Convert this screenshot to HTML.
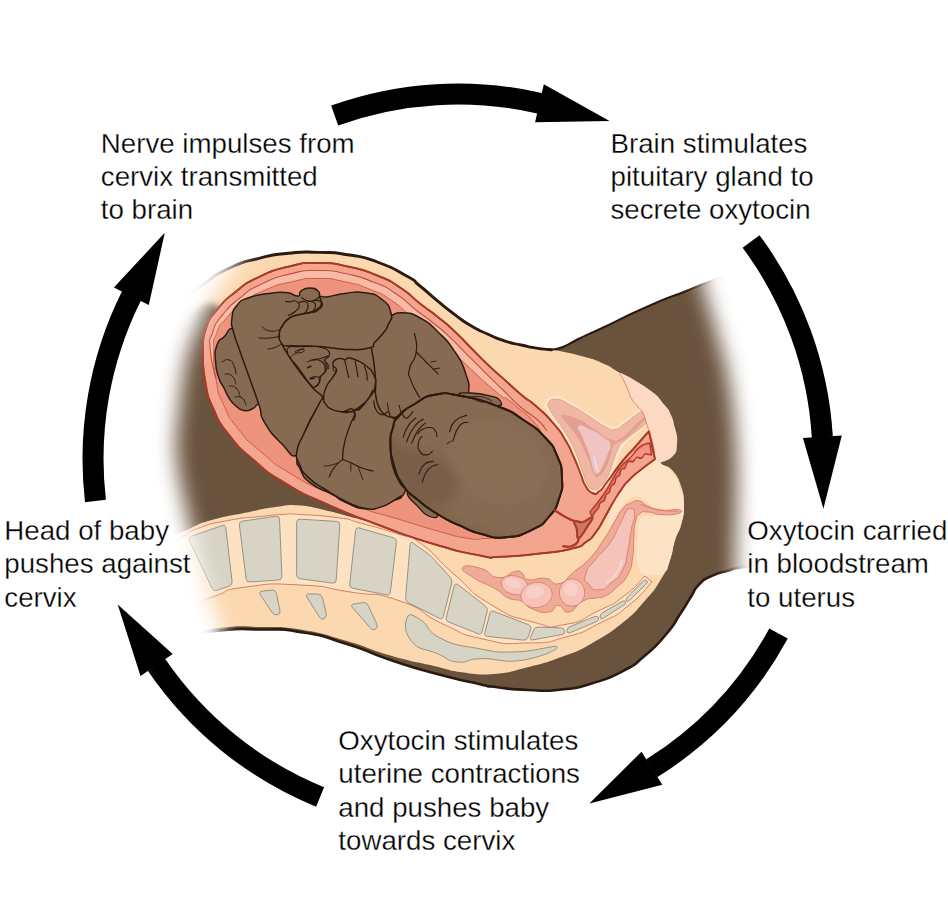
<!DOCTYPE html>
<html><head><meta charset="utf-8"><title>Positive feedback loop</title>
<style>
html,body{margin:0;padding:0;background:#fff;}
body{width:948px;height:914px;overflow:hidden;position:relative;font-family:"Liberation Sans",sans-serif;}
svg{display:block;position:absolute;left:0;top:0;}
</style></head><body>
<svg width="948" height="914" viewBox="0 0 948 914">
<rect width="948" height="914" fill="#fff"/>
<defs><filter id="blur9" x="-20%" y="-20%" width="140%" height="140%" color-interpolation-filters="sRGB"><feGaussianBlur stdDeviation="10"/></filter><clipPath id="silclip"><path d="M140.0 345.0C153.3 331.0 158.3 323.7 180.0 303.0C201.7 282.3 188.5 294.7 205.0 283.0C221.5 271.3 211.5 276.2 229.5 268.0C247.5 259.8 239.3 263.2 259.0 258.3C278.7 253.4 268.9 255.3 288.6 253.3C308.3 251.3 298.3 251.9 318.0 252.4C337.7 252.9 328.0 251.6 347.7 254.8C367.4 258.0 357.5 254.9 377.2 262.0C396.9 269.1 392.4 268.0 406.7 276.0C421.0 284.0 409.9 277.9 420.0 286.0C430.1 294.1 425.6 291.0 436.9 300.3C448.2 309.6 442.6 305.4 453.8 313.8C465.0 322.2 459.4 318.9 470.6 325.6C481.8 332.3 476.2 328.9 487.5 334.0C498.8 339.1 493.1 337.1 504.4 340.8C515.7 344.5 510.1 342.5 521.3 345.0C532.5 347.5 528.0 346.8 538.1 348.4C548.2 350.0 543.1 350.3 551.6 349.7C560.1 349.1 554.0 350.5 563.5 346.7C573.0 342.9 566.4 344.8 580.0 338.2C593.6 331.6 582.2 337.4 604.4 327.0C626.6 316.6 618.5 319.3 646.6 307.0C674.7 294.7 661.0 301.0 688.8 290.0C716.6 279.0 696.3 286.7 730.0 274.0C763.7 261.3 770.0 259.3 790.0 252.0 L790 560 L790.0 560.0C773.8 562.5 761.8 563.9 741.4 567.4C721.0 570.9 738.6 567.8 728.8 570.6C719.0 573.4 721.8 571.3 711.9 575.9C702.0 580.5 706.2 577.3 699.2 584.3C692.2 591.3 697.1 587.2 690.8 597.0C684.5 606.8 688.7 601.1 680.3 613.8C671.9 626.5 677.5 620.9 665.5 635.0C653.5 649.1 658.5 644.1 644.4 656.0C630.3 667.9 640.9 661.6 623.3 670.8C605.7 680.0 612.3 677.3 591.6 683.5C570.9 689.7 582.7 687.3 561.3 689.5C539.9 691.7 550.0 690.9 527.5 690.0C505.0 689.1 509.6 688.6 493.8 686.7C478.0 684.8 499.2 688.5 480.0 684.2C460.8 679.9 465.6 681.7 436.3 673.8C407.0 665.9 421.5 670.3 392.0 660.5C362.5 650.7 377.2 653.6 347.7 644.3C318.2 635.0 333.0 637.4 303.4 632.5C273.8 627.6 288.5 630.0 259.0 629.5C229.5 629.0 251.1 627.5 214.8 631.0C178.5 634.5 171.6 637.0 150.0 640.0 Z"/></clipPath><mask id="fade" maskUnits="userSpaceOnUse" x="80" y="180" width="760" height="600"><path d="M290.0 170.0C202.4 183.6 262.0 221.0 252.0 238.0C242.0 255.0 244.0 249.0 240.0 255.0C236.0 261.0 237.0 260.6 232.0 268.0C227.0 275.4 221.4 280.8 215.0 292.0C208.6 303.2 205.0 312.8 200.0 324.0C195.0 335.2 193.2 338.4 190.0 348.0C186.8 357.6 186.2 359.6 184.0 372.0C181.8 384.4 180.6 395.6 179.0 410.0C177.4 424.4 176.0 431.0 176.0 444.0C176.0 457.0 177.4 463.8 179.0 475.0C180.6 486.2 181.6 489.0 184.0 500.0C186.4 511.0 188.2 518.0 191.0 530.0C193.8 542.0 194.8 548.0 198.0 560.0C201.2 572.0 203.4 579.0 207.0 590.0C210.6 601.0 213.0 606.6 216.0 615.0C219.0 623.4 219.6 623.0 222.0 632.0C224.4 641.0 225.4 630.4 228.0 660.0C230.6 689.6 125.6 756.0 235.0 780.0C344.4 804.0 673.0 806.0 775.0 780.0C877.0 754.0 752.6 686.0 745.0 650.0C737.4 614.0 739.0 618.0 737.0 600.0C735.0 582.0 735.2 576.0 735.0 560.0C734.8 544.0 735.6 536.0 736.0 520.0C736.4 504.0 737.0 494.8 737.0 480.0C737.0 465.2 736.8 460.0 736.0 446.0C735.2 432.0 734.8 424.9 733.0 410.0C731.2 395.1 730.2 386.7 727.0 371.5C723.8 356.3 721.1 348.9 717.0 334.0C712.9 319.1 709.9 309.8 706.5 297.0C703.1 284.2 703.3 295.4 700.0 270.0C696.7 244.6 772.0 190.0 690.0 170.0C608.0 150.0 377.6 156.4 290.0 170.0Z" fill="#fff" filter="url(#blur9)"/></mask><filter id="blur3" x="-30%" y="-30%" width="160%" height="160%"><feGaussianBlur stdDeviation="3.5"/></filter><clipPath id="headclip"><path d="M392.7 428.5C395.2 420.3 392.0 423.5 399.0 415.9C406.0 408.3 405.1 409.5 415.9 403.2C426.7 396.9 421.7 397.0 434.9 394.8C448.1 392.6 441.1 392.3 460.0 395.8C478.9 399.3 478.9 399.1 498.0 406.4C517.0 413.7 509.5 410.8 523.5 420.0C537.5 429.2 534.5 426.2 544.6 437.0C554.7 447.8 552.0 444.0 557.2 456.0C562.4 468.0 561.3 464.4 561.9 477.0C562.5 489.6 563.2 486.0 559.3 498.0C555.4 510.0 557.0 507.5 548.8 517.0C540.6 526.5 544.6 523.7 531.9 529.8C519.2 535.9 521.8 535.9 506.6 537.2C491.4 538.5 495.3 537.5 481.3 534.0C467.3 530.5 472.7 531.3 460.0 525.6C447.3 519.9 451.6 522.7 439.0 515.0C426.4 507.3 428.7 508.9 418.0 500.0C407.3 491.1 410.5 496.2 403.2 485.5C395.9 474.8 397.5 477.1 393.7 464.4C389.9 451.7 390.8 454.1 390.5 443.3C390.2 432.5 390.1 436.7 392.7 428.5Z"/></clipPath><filter id="blur5" x="-30%" y="-30%" width="160%" height="160%"><feGaussianBlur stdDeviation="5"/></filter></defs>
<g mask="url(#fade)"><g clip-path="url(#silclip)"><rect x="100" y="200" width="720" height="540" fill="#6a533d"/>
<path d="M226.0 280.0C227.7 272.0 220.7 272.3 229.5 266.0C238.3 259.7 243.2 260.2 259.0 256.3C274.8 252.4 272.9 252.9 288.6 251.3C304.3 249.7 302.2 250.0 318.0 250.4C333.8 250.8 331.9 250.2 347.7 252.8C363.5 255.4 361.5 254.3 377.2 260.0C392.9 265.7 395.3 267.6 406.7 274.0C418.1 280.4 411.9 277.5 420.0 284.0C428.1 290.5 427.9 290.9 436.9 298.3C445.9 305.7 444.8 305.1 453.8 311.8C462.8 318.5 461.6 318.2 470.6 323.6C479.6 329.0 478.5 327.9 487.5 332.0C496.5 336.1 495.4 335.9 504.4 338.8C513.4 341.7 512.3 340.8 521.3 343.0C530.3 345.2 530.0 345.3 538.1 347.0C546.2 348.7 539.5 347.0 551.6 349.5C563.7 352.0 569.2 352.6 583.3 356.5C597.4 360.4 594.9 359.8 604.4 364.0C613.9 368.2 607.7 366.0 619.0 372.4C630.3 378.8 634.7 379.6 646.6 388.0C658.5 396.4 656.2 394.1 663.5 404.0C670.8 413.9 670.4 414.1 674.0 425.0C677.6 435.9 677.5 436.5 677.0 445.0C676.5 453.5 676.3 452.2 672.0 457.0C667.7 461.8 661.0 459.5 661.0 463.0C661.0 466.5 666.7 463.9 672.0 470.0C677.3 476.1 677.8 476.4 681.0 486.0C684.2 495.6 684.0 495.6 684.0 506.0C684.0 516.4 683.4 515.9 681.0 525.0C678.6 534.1 678.0 530.4 675.0 540.0C672.0 549.6 673.9 549.7 669.7 561.0C665.5 572.3 665.9 571.5 659.2 582.2C652.5 592.9 654.0 590.5 644.4 601.2C634.8 611.9 637.4 611.0 623.3 622.3C609.2 633.6 608.1 634.1 591.6 643.4C575.1 652.7 578.4 650.6 561.3 657.0C544.2 663.4 545.4 662.8 527.5 667.3C509.6 671.8 512.0 672.7 494.0 674.0C476.0 675.3 475.4 674.0 460.0 672.0C444.6 670.0 454.4 670.8 436.3 666.5C418.2 662.2 415.6 662.7 392.0 656.0C368.4 649.3 371.4 648.2 347.7 641.3C324.0 634.4 326.7 633.8 303.0 630.0C279.3 626.2 282.5 627.4 259.0 627.0C235.5 626.6 246.5 625.0 214.8 628.5C183.1 632.0 162.6 647.6 140.0 640.0C117.4 632.4 130.0 623.5 130.0 600.0C130.0 576.5 124.8 570.7 140.0 552.0C155.2 533.3 168.3 538.4 187.0 530.0C205.7 521.6 194.5 525.2 210.0 520.6C225.5 516.0 227.5 516.4 245.0 512.8C262.5 509.2 260.8 508.9 275.5 507.0C290.2 505.1 285.9 504.4 300.0 505.5C314.1 506.6 313.5 507.7 328.2 511.0C342.9 514.3 340.9 514.5 355.0 518.0C369.1 521.5 369.0 521.4 381.0 524.3C393.0 527.2 397.1 531.2 400.0 529.0C402.9 526.8 410.7 531.7 392.0 516.0C373.3 500.3 362.5 500.9 330.0 470.0C297.5 439.1 295.3 434.7 270.0 400.0C244.7 365.3 246.7 363.5 235.0 340.0C223.3 316.5 229.2 323.7 226.0 312.0C222.8 300.3 223.0 304.5 223.0 296.0C223.0 287.5 224.3 288.0 226.0 280.0Z" fill="#fbd8b0"/>
<path d="M236.0 262.0C237.7 272.1 238.7 286.7 236.0 300.0C233.3 313.3 231.9 310.9 226.0 312.0C220.1 313.1 220.9 305.6 214.0 304.0C207.1 302.4 208.5 302.3 200.0 306.0C191.5 309.7 192.7 311.6 182.0 318.0C171.3 324.4 168.5 330.0 160.0 330.0C151.5 330.0 144.7 327.1 150.0 318.0C155.3 308.9 165.3 306.7 180.0 296.0C194.7 285.3 191.8 287.1 205.0 278.0C218.2 268.9 221.2 266.3 229.5 262.0C237.8 257.7 234.3 251.9 236.0 262.0Z" fill="#fbd8b0" filter="url(#blur3)"/>
<path d="M202.8 350.0C203.7 343.3 200.9 343.2 205.5 330.0C210.1 316.8 206.3 323.3 216.5 310.5C226.7 297.7 221.8 302.7 236.0 291.5C250.2 280.3 241.5 285.3 259.0 277.0C276.5 268.7 268.9 271.3 288.6 266.6C308.3 261.9 298.3 263.0 318.0 263.0C337.7 263.0 328.0 262.3 347.7 266.5C367.4 270.7 359.8 268.5 377.2 275.5C394.6 282.5 385.7 278.1 400.0 287.5C414.3 296.9 407.7 294.0 420.0 303.6C432.3 313.2 425.6 307.3 436.9 316.3C448.2 325.3 442.6 320.2 453.8 330.6C465.0 341.0 459.4 336.2 470.6 347.5C481.8 358.8 476.2 353.7 487.5 364.4C498.8 375.1 493.1 369.5 504.4 379.6C515.7 389.7 510.5 385.7 521.3 394.8C532.1 403.9 526.1 397.2 536.9 406.9C547.7 416.6 544.2 412.6 553.8 423.8C563.4 435.0 558.9 429.4 565.6 440.6C572.3 451.8 568.9 446.2 574.0 457.5C579.1 468.8 576.9 464.8 580.8 474.4C584.7 484.0 581.9 480.0 585.8 486.2C589.7 492.4 588.1 491.3 592.6 493.0C597.1 494.7 594.2 495.3 599.3 491.3C604.4 487.3 600.5 490.6 607.8 481.0C615.1 471.4 612.3 473.8 621.3 462.6C630.3 451.4 626.9 456.4 634.8 447.4C642.7 438.4 640.3 440.9 645.0 435.6C649.7 430.3 647.7 432.9 649.0 431.5L655 459.2C650.5 462.6 649.9 462.5 641.5 469.3C633.1 476.1 636.4 472.7 629.7 479.5C623.0 486.3 626.9 481.8 621.3 489.6C615.7 497.4 618.1 494.2 612.8 503.0C607.5 511.8 611.1 506.3 605.5 516.0C599.9 525.7 602.5 523.3 596.0 532.0C589.5 540.7 594.1 536.4 586.0 542.0C577.9 547.6 587.0 544.9 571.7 548.7C556.4 552.5 563.9 550.8 540.0 553.5C516.1 556.2 520.0 556.1 500.0 556.8C480.0 557.5 502.7 559.9 480.0 555.5C457.3 551.1 465.3 553.5 432.0 543.5C398.7 533.5 414.8 538.5 380.0 525.5C345.2 512.5 359.2 518.5 327.7 504.5C296.2 490.5 310.1 498.2 285.5 483.4C260.9 468.6 272.5 476.2 253.8 460.2C235.1 444.2 242.9 452.6 229.5 435.5C216.1 418.4 221.6 427.2 213.5 409.0C205.4 390.8 208.8 400.7 205.2 381.0C201.6 361.3 203.6 360.3 202.8 350.0Z" fill="#f4a58f" stroke="#a53b28" stroke-width="1.6" stroke-linejoin="round"/>
<path d="M216.0 379.0C214.1 369.4 211.4 365.6 210.3 350.0C209.2 334.5 208.6 344.1 212.6 332.5C216.6 320.8 213.0 326.8 222.4 315.2C231.7 303.5 227.4 307.8 240.6 297.4C253.9 286.9 245.6 291.6 262.2 283.8C278.8 275.9 271.7 278.3 290.3 273.9C308.9 269.5 299.4 270.5 318.0 270.5C336.6 270.5 327.4 269.9 346.2 273.8C364.9 277.8 357.8 275.8 374.4 282.5C391.0 289.1 382.2 284.8 395.9 293.8C409.5 302.8 403.3 300.0 415.4 309.5C427.5 319.0 421.1 313.3 432.2 322.2C443.3 331.0 437.7 325.9 448.7 336.1C459.7 346.3 454.1 341.6 465.3 352.8C476.5 364.0 469.8 357.4 482.3 369.8C494.9 382.2 491.8 378.9 503.0 390.0C514.2 401.1 511.7 398.7 516.0 403.0L508.0 399.5C503.3 396.3 510.1 403.7 494.0 390.0C477.9 376.3 476.5 374.5 459.6 358.4C442.7 342.4 454.1 352.0 443.3 342.0C432.5 332.0 438.2 337.1 427.2 328.4C416.3 319.7 422.4 325.1 410.5 315.8C398.6 306.5 404.5 309.1 391.5 300.5C378.5 291.8 387.1 296.1 371.4 289.9C355.8 283.6 362.3 285.5 344.5 281.7C326.7 277.9 335.5 278.5 318.0 278.5C300.6 278.5 309.8 277.8 292.2 281.7C274.6 285.5 281.1 283.3 265.2 290.1C249.3 296.9 257.3 292.7 244.4 302.1C231.4 311.5 235.6 307.7 226.3 318.3C217.0 328.8 220.5 323.2 216.4 333.8C212.2 344.4 213.9 335.0 213.8 350.1C213.7 365.2 215.3 369.4 216.0 379.0Z" fill="#f8bba7"/>
<path d="M292.0 474.5C268.6 460.3 278.9 467.1 261.0 451.8C243.0 436.6 250.6 444.5 238.1 428.7C225.7 412.9 230.9 421.1 223.5 404.5C216.2 388.0 219.3 397.2 216.0 379.0C212.8 360.9 213.7 365.2 213.8 350.1C213.9 335.0 212.2 344.4 216.4 333.8C220.5 323.2 217.0 328.8 226.3 318.3C235.6 307.7 231.4 311.5 244.4 302.1C257.3 292.7 249.3 296.9 265.2 290.1C281.1 283.3 274.6 285.5 292.2 281.7C309.8 277.8 300.6 278.5 318.0 278.5C335.5 278.5 326.7 277.9 344.5 281.7C362.3 285.5 355.8 283.6 371.4 289.9C387.1 296.1 378.5 291.8 391.5 300.5C404.5 309.1 398.6 306.5 410.5 315.8C422.4 325.1 416.3 319.7 427.2 328.4C438.2 337.1 432.5 332.0 443.3 342.0C454.1 352.0 442.7 342.4 459.6 358.4C476.5 374.5 477.9 376.3 494.0 390.0C510.1 403.7 500.0 393.5 508.0 399.5C516.0 405.5 510.0 401.2 518.0 408.0C526.0 414.8 523.7 410.7 532.0 420.0C540.3 429.3 537.0 424.7 543.0 436.0C549.0 447.3 546.7 441.2 550.0 454.0C553.3 466.8 552.3 462.0 553.0 474.4C553.7 486.8 553.3 480.1 552.0 491.3C550.7 502.5 553.0 497.8 549.0 508.0C545.0 518.2 549.7 514.0 540.0 522.0C530.3 530.0 533.3 527.2 520.0 532.0C506.7 536.8 511.7 534.3 500.0 536.5C488.3 538.7 496.3 538.0 485.0 538.5C473.7 539.0 482.3 540.7 466.0 538.0C449.7 535.3 458.7 536.8 436.0 530.5C413.3 524.2 423.3 526.7 398.0 519.0C372.7 511.3 382.3 515.7 360.0 507.5C337.7 499.3 353.7 505.5 331.0 494.5C308.3 483.5 315.3 488.7 292.0 474.5Z" fill="#ee937d" stroke="#c95c48" stroke-width="1"/>
<path d="M216.0 379.0C214.1 369.4 211.4 365.6 210.3 350.0C209.2 334.5 208.6 344.1 212.6 332.5C216.6 320.8 213.0 326.8 222.4 315.2C231.7 303.5 227.4 307.8 240.6 297.4C253.9 286.9 245.6 291.6 262.2 283.8C278.8 275.9 271.7 278.3 290.3 273.9C308.9 269.5 299.4 270.5 318.0 270.5C336.6 270.5 327.4 269.9 346.2 273.8C364.9 277.8 357.8 275.8 374.4 282.5C391.0 289.1 382.2 284.8 395.9 293.8C409.5 302.8 403.3 300.0 415.4 309.5C427.5 319.0 421.1 313.3 432.2 322.2C443.3 331.0 437.7 325.9 448.7 336.1C459.7 346.3 454.1 341.6 465.3 352.8C476.5 364.0 469.8 357.4 482.3 369.8C494.9 382.2 490.4 377.8 503.0 390.0C515.6 402.2 508.7 396.7 520.0 406.5C531.3 416.3 528.0 411.3 537.0 419.5C546.0 427.7 543.7 427.2 547.0 431.0" fill="none" stroke="#bf523e" stroke-width="1.1"/>
<path d="M236.0 331.0C227.4 324.2 229.3 332.9 223.5 337.3C217.7 341.7 219.2 338.7 216.8 345.8C214.4 352.9 215.0 351.6 215.5 361.0C216.0 370.4 215.9 368.9 218.5 377.0C221.1 385.1 220.8 381.7 224.0 388.0C227.2 394.3 225.4 392.6 229.0 398.0C232.6 403.4 231.5 402.2 236.0 406.0C240.5 409.8 239.2 409.6 244.0 410.5C248.8 411.4 247.8 410.9 252.0 409.0C256.2 407.1 253.8 407.3 258.0 404.0C262.2 400.7 267.8 411.2 266.0 398.0C264.2 384.8 261.0 380.1 252.0 360.0C243.0 339.9 244.6 337.8 236.0 331.0Z" fill="#866a52" stroke="#2e1b10" stroke-width="1.5" stroke-linejoin="round"/>
<path d="M281.7 344.0C287.7 327.5 303.5 339.4 330.0 340.0C356.5 340.6 355.6 338.2 370.0 346.0C384.4 353.8 375.6 349.8 378.0 366.0C380.4 382.2 371.4 382.3 378.0 400.0C384.6 417.7 394.9 404.0 400.0 425.0C405.1 446.0 394.0 450.0 395.0 470.0C396.0 490.0 405.2 482.1 403.3 491.8C401.4 501.5 399.3 497.3 388.5 502.4C377.7 507.5 380.4 508.8 367.4 508.7C354.3 508.6 355.6 506.4 345.0 502.0C334.4 497.6 342.2 499.6 332.0 494.0C321.8 488.4 320.6 491.0 311.0 483.4C301.4 475.8 304.2 477.1 300.0 468.6C295.8 460.1 297.0 469.6 297.0 455.0C297.0 440.4 296.1 438.0 300.0 420.0C303.9 402.0 315.5 417.8 310.0 395.0C304.5 372.2 275.7 360.5 281.7 344.0Z" fill="#866a52" stroke="#2e1b10" stroke-width="1.5" stroke-linejoin="round"/>
<path d="M390.6 316.0C397.0 313.5 394.4 312.2 403.3 312.8C412.2 313.4 409.8 312.2 420.2 318.0C430.6 323.8 427.6 321.8 438.0 332.0C448.4 342.2 446.8 339.9 455.0 352.0C463.2 364.1 461.1 360.1 465.2 372.2C469.2 384.3 469.5 383.0 468.5 392.5C467.5 402.0 470.6 398.8 462.0 404.0C453.4 409.2 455.3 408.8 440.0 410.0C424.7 411.2 424.7 405.7 411.0 408.0C397.3 410.3 402.4 415.9 394.3 417.8C386.2 419.7 389.1 416.4 384.0 414.4C378.9 412.4 380.4 415.1 377.4 411.0C374.4 406.9 374.5 408.5 374.0 400.9C373.5 393.3 375.7 396.8 375.7 385.7C375.7 374.6 375.3 376.5 374.0 363.8C372.7 351.1 371.0 353.6 371.5 343.5C372.0 333.4 372.6 336.8 375.7 330.0C378.8 323.2 377.5 325.2 382.0 321.0C386.5 316.8 384.2 318.5 390.6 316.0Z" fill="#866a52" stroke="#2e1b10" stroke-width="1.5" stroke-linejoin="round"/>
<path d="M319.7 296.8C321.7 294.8 320.4 297.8 328.0 296.8C335.6 295.8 334.0 294.6 345.0 293.4C356.0 292.2 353.7 291.0 364.6 292.7C375.5 294.4 373.5 292.9 381.4 299.0C389.3 305.1 389.0 305.2 391.0 313.0C393.0 320.8 390.2 319.1 388.0 325.0C385.8 330.9 387.4 327.6 383.5 332.7C379.6 337.8 379.4 337.4 375.0 342.0C370.6 346.6 377.9 345.8 369.0 348.0C360.1 350.2 360.0 349.8 345.3 349.4C330.6 348.9 335.3 347.6 320.0 346.5C304.7 345.4 305.9 346.6 294.4 345.8C282.9 345.1 286.3 347.5 281.7 344.0C277.1 340.5 278.9 339.6 279.2 334.0C279.5 328.4 279.6 330.3 282.6 325.5C285.6 320.7 284.2 321.3 289.3 318.0C294.4 314.7 292.9 316.3 299.5 314.5C306.1 312.7 305.8 313.8 311.3 312.0C316.9 310.2 315.0 311.1 318.0 308.6C321.0 306.1 320.9 307.1 321.4 303.6C321.9 300.1 317.7 298.8 319.7 296.8Z" fill="#866a52" stroke="#2e1b10" stroke-width="1.5" stroke-linejoin="round"/>
<path d="M288.9 347.2C292.1 345.4 291.9 346.8 298.2 346.6C304.5 346.4 302.8 346.1 309.8 346.4C316.8 346.7 315.8 346.1 321.4 347.5C327.1 349.0 326.5 348.6 328.6 351.2C330.8 353.9 329.7 353.9 328.6 356.5C327.5 359.1 325.3 357.0 324.9 359.9C324.5 362.9 327.2 362.7 327.2 366.3C327.2 370.0 326.8 369.2 324.9 372.1C323.0 375.1 322.4 373.4 320.8 376.2C319.3 379.0 321.2 378.3 319.7 381.4C318.1 384.5 318.6 385.9 315.6 386.6C312.7 387.3 315.0 389.5 309.8 383.7C304.6 378.0 304.1 375.1 298.2 367.5C292.3 359.8 293.3 362.7 290.1 358.2C286.9 353.7 287.9 355.7 287.5 352.4C287.2 349.1 285.7 348.9 288.9 347.2Z" fill="#866a52" stroke="#2e1b10" stroke-width="1.2" stroke-linejoin="round"/>
<path d="M231.9 318.8C232.9 310.7 231.9 311.6 237.0 305.3C242.1 299.0 239.2 301.3 248.8 297.7C258.4 294.1 257.8 294.9 269.0 293.4C280.2 291.9 277.4 291.8 286.0 292.6C294.6 293.4 293.3 296.5 297.8 296.0C302.3 295.5 297.5 293.4 301.0 291.0C304.5 288.6 304.5 288.0 309.6 288.0C314.7 288.0 315.0 288.4 318.0 291.0C321.0 293.6 318.7 293.0 319.7 296.8C320.7 300.6 321.9 300.1 321.4 303.6C320.9 307.1 321.0 306.1 318.0 308.6C315.0 311.1 316.9 310.2 311.3 312.0C305.8 313.8 306.1 312.7 299.5 314.5C292.9 316.3 294.4 314.7 289.3 318.0C284.2 321.3 285.6 320.7 282.6 325.5C279.6 330.3 279.5 328.4 279.2 334.0C278.9 339.6 277.1 334.9 281.7 344.0C286.3 353.1 285.5 351.6 294.4 364.3C303.3 377.0 302.7 375.7 311.3 386.3C319.9 396.9 321.9 392.2 323.0 399.8C324.1 407.4 320.6 401.7 315.0 411.6C309.4 421.5 309.9 419.7 304.5 432.7C299.1 445.7 304.0 451.8 297.0 455.0C290.0 458.2 291.1 453.1 281.3 443.3C271.5 433.5 271.1 433.7 264.4 422.2C257.7 410.7 263.7 418.9 259.0 405.0C254.3 391.1 254.4 391.8 248.8 376.0C243.2 360.2 245.0 365.6 240.4 352.5C235.8 339.4 236.2 342.4 233.6 332.3C231.0 322.2 230.9 326.9 231.9 318.8Z" fill="#866a52" stroke="#2e1b10" stroke-width="1.5" stroke-linejoin="round"/>
<path d="M324.0 396.9C329.2 391.1 327.3 391.3 333.0 391.0C338.7 390.7 336.6 390.6 343.0 396.0C349.4 401.4 347.9 406.7 354.4 409.0C360.8 411.3 358.9 409.3 364.5 403.6C370.1 397.9 368.9 389.6 373.0 390.0C377.1 390.4 374.4 397.5 378.0 405.0C381.6 412.5 379.6 410.5 385.0 415.0C390.4 419.5 394.1 414.3 396.0 420.0C397.9 425.7 393.1 424.7 391.5 434.0C389.9 443.3 390.2 440.8 390.7 450.9C391.2 461.0 390.4 458.2 393.2 467.8C396.0 477.4 396.5 475.9 400.0 483.0C403.5 490.1 406.5 486.4 405.0 491.4C403.5 496.4 402.5 495.0 394.9 499.8C387.3 504.6 388.8 504.8 379.7 507.4C370.6 509.9 374.6 510.1 364.5 508.3C354.4 506.5 357.6 507.1 346.0 501.5C334.4 495.9 336.9 496.8 325.7 489.7C314.5 482.6 316.7 485.5 308.8 477.9C300.9 470.3 303.0 472.5 299.5 464.4C296.0 456.3 295.7 460.0 297.0 450.9C298.3 441.8 298.2 446.1 303.8 434.0C309.4 421.9 309.5 421.5 315.6 410.4C321.7 399.3 318.8 402.7 324.0 396.9Z" fill="#866a52" stroke="#2e1b10" stroke-width="1.5" stroke-linejoin="round"/>
<path d="M323.7 398.2C323.7 393.0 323.3 393.7 326.1 387.2C328.8 380.8 329.9 382.0 333.0 376.8C336.2 371.6 336.5 373.2 336.5 369.8C336.5 366.4 333.4 368.4 333.0 365.4C332.7 362.4 332.9 362.0 335.3 359.9C337.8 357.9 338.2 358.6 341.1 358.6C344.1 358.5 342.8 359.9 345.2 359.7C347.6 359.5 345.3 357.6 349.3 358.0C353.3 358.4 353.3 358.6 358.5 361.1C363.8 363.6 362.1 362.3 366.7 366.3C371.2 370.3 371.1 368.5 373.6 374.5C376.1 380.4 376.1 379.4 375.0 386.1C374.0 392.7 374.4 390.6 370.1 396.5C365.9 402.4 366.8 401.3 360.9 405.8C354.9 410.3 356.0 409.8 350.4 411.6C344.9 413.4 347.9 412.5 342.3 411.8C336.7 411.1 336.7 411.4 331.9 409.3C327.0 407.1 328.5 407.9 326.1 404.6C323.6 401.3 323.7 403.5 323.7 398.2Z" fill="#866a52" stroke="#2e1b10" stroke-width="1.4" stroke-linejoin="round"/>
<path d="M460.0 395.8C456.9 392.1 461.8 393.0 470.7 393.0C479.6 393.0 480.8 393.4 489.7 395.8C498.6 398.2 498.1 397.8 500.3 401.0C502.5 404.2 502.8 405.0 497.0 406.4C491.2 407.8 492.1 408.7 481.0 405.5C469.9 402.3 463.1 399.6 460.0 395.8Z" fill="#866a52" stroke="#2e1b10" stroke-width="1.3" stroke-linejoin="round"/>
<path d="M407.4 494.0C408.3 498.4 411.7 500.0 418.0 506.6C424.3 513.2 422.5 513.5 428.5 516.0C434.5 518.5 437.6 518.3 438.0 515.0C438.4 511.7 436.9 511.9 430.0 505.0C423.1 498.1 421.8 495.3 415.0 492.0C408.2 488.7 406.5 489.6 407.4 494.0Z" fill="#866a52" stroke="#2e1b10" stroke-width="1.3" stroke-linejoin="round"/>
<path d="M392.7 428.5C395.2 420.3 392.0 423.5 399.0 415.9C406.0 408.3 405.1 409.5 415.9 403.2C426.7 396.9 421.7 397.0 434.9 394.8C448.1 392.6 441.1 392.3 460.0 395.8C478.9 399.3 478.9 399.1 498.0 406.4C517.0 413.7 509.5 410.8 523.5 420.0C537.5 429.2 534.5 426.2 544.6 437.0C554.7 447.8 552.0 444.0 557.2 456.0C562.4 468.0 561.3 464.4 561.9 477.0C562.5 489.6 563.2 486.0 559.3 498.0C555.4 510.0 557.0 507.5 548.8 517.0C540.6 526.5 544.6 523.7 531.9 529.8C519.2 535.9 521.8 535.9 506.6 537.2C491.4 538.5 495.3 537.5 481.3 534.0C467.3 530.5 472.7 531.3 460.0 525.6C447.3 519.9 451.6 522.7 439.0 515.0C426.4 507.3 428.7 508.9 418.0 500.0C407.3 491.1 410.5 496.2 403.2 485.5C395.9 474.8 397.5 477.1 393.7 464.4C389.9 451.7 390.8 454.1 390.5 443.3C390.2 432.5 390.1 436.7 392.7 428.5Z" fill="#866a52" stroke="#2e1b10" stroke-width="1.9" stroke-linejoin="round"/>
<g clip-path="url(#headclip)"><ellipse cx="497" cy="462" rx="52" ry="40" transform="rotate(28 497 462)" fill="#8d725a" opacity="0.55" filter="url(#blur5)"/><path d="M388.0 430.0C392.0 426.7 386.7 436.7 400.0 445.0C413.3 453.3 411.3 446.7 428.0 455.0C444.7 463.3 441.0 458.3 450.0 470.0C459.0 481.7 458.3 478.3 455.0 490.0C451.7 501.7 452.3 501.7 440.0 505.0C427.7 508.3 432.0 508.3 418.0 500.0C404.0 491.7 408.0 495.0 398.0 480.0C388.0 465.0 391.3 471.7 388.0 455.0C384.7 438.3 384.0 433.3 388.0 430.0Z" fill="#5e4534" opacity="0.30" filter="url(#blur5)"/><path d="M400.0 490.0C406.7 488.3 406.7 497.3 430.0 510.0C453.3 522.7 443.3 518.7 470.0 528.0C496.7 537.3 485.0 538.0 510.0 538.0C535.0 538.0 528.3 539.0 545.0 528.0C561.7 517.0 550.0 507.7 560.0 505.0C570.0 502.3 581.7 505.0 575.0 520.0C568.3 535.0 575.0 540.7 540.0 550.0C505.0 559.3 513.3 559.7 470.0 548.0C426.7 536.3 433.3 534.3 410.0 515.0C386.7 495.7 393.3 491.7 400.0 490.0Z" fill="#5e4534" opacity="0.28" filter="url(#blur5)"/></g>
<path d="M392.7 428.5C395.2 420.3 392.0 423.5 399.0 415.9C406.0 408.3 405.1 409.5 415.9 403.2C426.7 396.9 421.7 397.0 434.9 394.8C448.1 392.6 441.1 392.3 460.0 395.8C478.9 399.3 478.9 399.1 498.0 406.4C517.0 413.7 509.5 410.8 523.5 420.0C537.5 429.2 534.5 426.2 544.6 437.0C554.7 447.8 552.0 444.0 557.2 456.0C562.4 468.0 561.3 464.4 561.9 477.0C562.5 489.6 563.2 486.0 559.3 498.0C555.4 510.0 557.0 507.5 548.8 517.0C540.6 526.5 544.6 523.7 531.9 529.8C519.2 535.9 521.8 535.9 506.6 537.2C491.4 538.5 495.3 537.5 481.3 534.0C467.3 530.5 472.7 531.3 460.0 525.6C447.3 519.9 451.6 522.7 439.0 515.0C426.4 507.3 428.7 508.9 418.0 500.0C407.3 491.1 410.5 496.2 403.2 485.5C395.9 474.8 397.5 477.1 393.7 464.4C389.9 451.7 390.8 454.1 390.5 443.3C390.2 432.5 390.1 436.7 392.7 428.5Z" fill="none" stroke="#2e1b10" stroke-width="1.9"/>
<path d="M414.5 333.4C415.1 339.6 417.9 340.2 416.2 352.0C414.5 363.8 411.2 359.3 409.5 368.8C407.8 378.3 407.6 371.0 411.0 380.6C414.4 390.2 416.7 391.9 419.6 397.5" fill="none" stroke="#2e1b10" stroke-width="1.2" stroke-linecap="round" stroke-linejoin="round"/>
<path d="M416.2 352.0C420.1 355.9 420.7 356.5 428.0 363.8C435.3 371.1 434.7 370.5 438.0 373.9" fill="none" stroke="#2e1b10" stroke-width="1.2" stroke-linecap="round" stroke-linejoin="round"/>
<path d="M431.0 362.0C432.7 361.7 434.3 361.3 436.0 361.0" fill="none" stroke="#2e1b10" stroke-width="1" stroke-linecap="round" stroke-linejoin="round"/>
<path d="M434.0 369.0C436.0 368.7 438.0 368.3 440.0 368.0" fill="none" stroke="#2e1b10" stroke-width="1" stroke-linecap="round" stroke-linejoin="round"/>
<path d="M299.5 302.2C301.5 302.0 302.6 300.8 305.5 301.8C308.3 302.8 307.5 302.3 308.0 305.1C308.5 307.9 308.3 307.3 306.9 310.3C305.6 313.2 305.0 312.7 304.0 314.0" fill="none" stroke="#2e1b10" stroke-width="1.2" stroke-linecap="round" stroke-linejoin="round"/>
<path d="M308.4 301.4C310.1 301.7 311.2 300.7 313.6 302.2C315.9 303.6 315.4 303.1 315.4 305.8C315.4 308.6 315.7 307.8 313.6 310.3C311.5 312.7 310.6 312.3 309.1 313.2" fill="none" stroke="#2e1b10" stroke-width="1.2" stroke-linecap="round" stroke-linejoin="round"/>
<path d="M315.1 300.3C316.8 300.7 317.8 299.8 320.2 301.4C322.7 303.0 322.9 302.4 322.4 305.1C321.9 307.8 321.7 307.1 318.7 309.5C315.8 312.0 315.3 311.5 313.6 312.5" fill="none" stroke="#2e1b10" stroke-width="1.2" stroke-linecap="round" stroke-linejoin="round"/>
<path d="M301.8 297.7C304.0 298.8 304.0 300.3 308.4 301.0C312.8 301.8 311.4 301.4 315.1 299.9C318.7 298.5 318.0 297.7 319.5 296.6" fill="none" stroke="#2e1b10" stroke-width="1.2" stroke-linecap="round" stroke-linejoin="round"/>
<path d="M285.5 301.4C287.2 301.5 288.0 302.0 290.7 301.8C293.4 301.5 291.4 300.6 293.6 300.7C295.8 300.8 295.5 300.4 297.3 302.2C299.2 303.9 299.7 302.9 299.2 305.8C298.7 308.8 299.4 307.8 295.8 311.0C292.3 314.2 290.9 314.0 288.5 315.5" fill="none" stroke="#2e1b10" stroke-width="1.1" stroke-linecap="round" stroke-linejoin="round"/>
<path d="M262.0 327.0C264.7 328.3 264.3 330.0 270.0 331.0C275.7 332.0 276.0 330.3 279.0 330.0" fill="none" stroke="#2e1b10" stroke-width="1" stroke-linecap="round" stroke-linejoin="round"/>
<path d="M259.0 338.0C262.7 338.0 263.0 338.7 270.0 338.0C277.0 337.3 276.7 336.7 280.0 336.0" fill="none" stroke="#2e1b10" stroke-width="1" stroke-linecap="round" stroke-linejoin="round"/>
<path d="M268.0 349.0C270.7 348.3 271.3 349.0 276.0 347.0C280.7 345.0 280.0 344.3 282.0 343.0" fill="none" stroke="#2e1b10" stroke-width="1" stroke-linecap="round" stroke-linejoin="round"/>
<path d="M222.0 362.0C224.3 361.3 225.0 358.7 229.0 360.0C233.0 361.3 231.7 361.3 234.0 366.0C236.3 370.7 235.3 371.3 236.0 374.0" fill="none" stroke="#2e1b10" stroke-width="1" stroke-linecap="round" stroke-linejoin="round"/>
<path d="M225.0 374.0C227.3 374.7 228.3 372.7 232.0 376.0C235.7 379.3 234.7 381.3 236.0 384.0" fill="none" stroke="#2e1b10" stroke-width="1" stroke-linecap="round" stroke-linejoin="round"/>
<path d="M229.0 386.0C231.3 386.7 232.3 384.7 236.0 388.0C239.7 391.3 238.7 393.3 240.0 396.0" fill="none" stroke="#2e1b10" stroke-width="1" stroke-linecap="round" stroke-linejoin="round"/>
<path d="M235.0 397.0C237.3 397.3 238.3 395.3 242.0 398.0C245.7 400.7 244.7 402.7 246.0 405.0" fill="none" stroke="#2e1b10" stroke-width="1" stroke-linecap="round" stroke-linejoin="round"/>
<path d="M313.3 359.6C316.0 359.1 316.6 359.4 321.4 358.2C326.2 357.0 325.7 356.7 327.8 355.9" fill="none" stroke="#2e1b10" stroke-width="1.1" stroke-linecap="round" stroke-linejoin="round"/>
<path d="M307.5 361.9C309.8 361.3 309.8 360.0 314.5 359.9C319.1 359.9 317.9 358.8 321.4 361.7C325.0 364.6 324.7 364.4 325.1 368.7C325.5 372.9 324.6 371.7 322.6 374.5C320.6 377.2 320.3 376.2 319.1 377.0" fill="none" stroke="#2e1b10" stroke-width="1.1" stroke-linecap="round" stroke-linejoin="round"/>
<path d="M309.8 378.2C312.1 377.7 313.6 375.7 316.8 376.8C319.9 377.9 319.6 378.2 319.3 381.4C319.0 384.6 317.0 384.7 315.8 386.3" fill="none" stroke="#2e1b10" stroke-width="1.1" stroke-linecap="round" stroke-linejoin="round"/>
<path d="M320.8 361.1C322.2 362.3 323.2 361.7 324.9 364.6C326.6 367.5 325.7 368.1 326.1 369.8" fill="none" stroke="#2e1b10" stroke-width="0.9" stroke-linecap="round" stroke-linejoin="round"/>
<path d="M323.2 359.9C324.7 361.3 326.0 361.1 327.8 364.0C329.6 366.9 328.3 367.1 328.6 368.7" fill="none" stroke="#2e1b10" stroke-width="0.9" stroke-linecap="round" stroke-linejoin="round"/>
<path d="M307.7 367.7C308.8 367.3 309.9 366.8 311.0 366.3" fill="none" stroke="#2e1b10" stroke-width="1.6" stroke-linecap="round" stroke-linejoin="round"/>
<path d="M310.5 378.7C311.8 378.6 313.1 378.4 314.5 378.2" fill="none" stroke="#2e1b10" stroke-width="1.6" stroke-linecap="round" stroke-linejoin="round"/>
<path d="M295.0 351.5C296.2 350.9 296.2 350.5 298.8 349.9C301.4 349.2 301.1 349.0 302.8 349.5C304.6 350.0 305.0 350.2 304.0 351.2C303.0 352.3 302.7 352.1 299.9 352.6C297.2 353.2 297.2 352.9 295.9 353.0" fill="none" stroke="#2e1b10" stroke-width="1" stroke-linecap="round" stroke-linejoin="round"/>
<path d="M290.1 358.2C291.6 356.7 290.1 357.0 294.7 353.6C299.4 350.1 300.9 349.7 304.0 347.8" fill="none" stroke="#2e1b10" stroke-width="1.0" stroke-linecap="round" stroke-linejoin="round"/>
<path d="M344.6 359.9C345.4 363.2 345.6 364.0 346.9 369.8C348.3 375.6 348.1 374.8 348.7 377.4" fill="none" stroke="#2e1b10" stroke-width="1.1" stroke-linecap="round" stroke-linejoin="round"/>
<path d="M355.1 361.1C355.6 364.0 355.8 364.6 356.8 369.8C357.8 375.0 357.6 374.5 358.0 376.8" fill="none" stroke="#2e1b10" stroke-width="1.1" stroke-linecap="round" stroke-linejoin="round"/>
<path d="M364.3 366.3C365.1 368.7 365.7 368.7 366.7 373.3C367.6 377.9 367.1 377.9 367.2 380.3" fill="none" stroke="#2e1b10" stroke-width="1.1" stroke-linecap="round" stroke-linejoin="round"/>
<path d="M333.0 365.4C333.3 367.3 332.9 369.4 333.9 371.0C335.0 372.5 335.5 370.4 336.3 370.0" fill="none" stroke="#2e1b10" stroke-width="1.0" stroke-linecap="round" stroke-linejoin="round"/>
<path d="M342.3 411.8C345.0 411.7 346.2 410.8 350.4 411.6C354.7 412.4 353.9 411.3 355.1 414.1C356.2 417.0 354.3 418.1 353.9 420.1" fill="none" stroke="#2e1b10" stroke-width="1.2" stroke-linecap="round" stroke-linejoin="round"/>
<path d="M342.6 411.7C346.5 411.4 352.1 405.7 354.4 410.9C356.6 416.1 352.7 416.2 349.3 427.3C345.9 438.3 346.5 433.4 344.3 444.1C342.0 454.8 343.1 454.3 342.6 459.3" fill="none" stroke="#2e1b10" stroke-width="1.3" stroke-linecap="round" stroke-linejoin="round"/>
<path d="M354.4 410.9C357.8 408.5 358.3 410.5 364.5 403.6C370.7 396.7 370.1 394.6 373.0 390.1" fill="none" stroke="#2e1b10" stroke-width="1.3" stroke-linecap="round" stroke-linejoin="round"/>
<path d="M342.6 459.3C339.8 462.1 338.6 461.9 334.1 467.8C329.6 473.7 330.8 474.0 329.1 477.0" fill="none" stroke="#2e1b10" stroke-width="1.1" stroke-linecap="round" stroke-linejoin="round"/>
<path d="M337.5 463.0C335.3 463.8 335.3 464.2 330.8 465.2C326.3 466.2 326.3 465.8 324.0 466.1" fill="none" stroke="#2e1b10" stroke-width="1" stroke-linecap="round" stroke-linejoin="round"/>
<path d="M342.6 459.3C345.4 460.5 344.8 459.9 351.0 462.7C357.2 465.5 353.8 465.0 361.1 467.8C368.5 470.6 369.0 470.0 373.0 471.1" fill="none" stroke="#2e1b10" stroke-width="1.1" stroke-linecap="round" stroke-linejoin="round"/>
<path d="M357.8 466.1C358.6 468.3 358.6 468.3 360.3 472.8C362.0 477.3 362.0 477.3 362.8 479.6" fill="none" stroke="#2e1b10" stroke-width="1" stroke-linecap="round" stroke-linejoin="round"/>
<path d="M351.0 463.5C350.9 465.0 350.7 465.2 350.7 467.8C350.7 470.3 350.9 470.0 351.0 471.1" fill="none" stroke="#2e1b10" stroke-width="1" stroke-linecap="round" stroke-linejoin="round"/>
<path d="M403.2 437.0C405.0 433.1 404.3 431.7 408.5 425.4C412.7 419.0 413.4 420.4 415.9 418.0" fill="none" stroke="#2e1b10" stroke-width="1.1" stroke-linecap="round" stroke-linejoin="round"/>
<path d="M406.4 442.2C408.8 437.3 408.1 435.2 413.8 427.5C419.4 419.7 420.1 421.8 423.2 419.0" fill="none" stroke="#2e1b10" stroke-width="1.1" stroke-linecap="round" stroke-linejoin="round"/>
<path d="M411.6 443.3C413.8 439.1 413.4 437.3 418.0 430.6C422.5 424.0 422.9 425.7 425.4 423.2" fill="none" stroke="#2e1b10" stroke-width="1.1" stroke-linecap="round" stroke-linejoin="round"/>
<path d="M418.0 433.8C419.4 432.4 418.3 431.7 422.2 429.6C426.1 427.5 425.2 427.1 429.6 427.5C433.9 427.8 432.8 427.6 435.3 430.6C437.7 433.7 436.4 434.6 437.0 436.5" fill="none" stroke="#2e1b10" stroke-width="1.1" stroke-linecap="round" stroke-linejoin="round"/>
<path d="M421.8 436.5C420.6 438.8 419.0 438.2 418.4 443.3C417.8 448.4 417.3 447.9 420.1 451.7C422.9 455.6 422.8 455.0 426.8 454.9C430.9 454.8 430.5 452.5 432.3 451.3" fill="none" stroke="#2e1b10" stroke-width="1.2" stroke-linecap="round" stroke-linejoin="round"/>
<path d="M449.6 431.7C451.4 428.2 449.3 426.6 454.9 421.1C460.5 415.7 462.6 417.3 466.5 415.4" fill="none" stroke="#2e1b10" stroke-width="1.2" stroke-linecap="round" stroke-linejoin="round"/>
<path d="M452.8 441.2C454.9 436.3 454.2 432.7 459.1 426.4C464.0 420.1 464.7 423.6 467.6 422.2" fill="none" stroke="#2e1b10" stroke-width="1.1" stroke-linecap="round" stroke-linejoin="round"/>
<path d="M447.1 443.7C448.4 442.9 449.6 442.0 450.9 441.2" fill="none" stroke="#2e1b10" stroke-width="1" stroke-linecap="round" stroke-linejoin="round"/>
<path d="M419.0 473.9C420.8 470.7 419.6 468.6 424.3 464.4C429.0 460.2 430.2 462.3 433.2 461.2" fill="none" stroke="#2e1b10" stroke-width="1.2" stroke-linecap="round" stroke-linejoin="round"/>
<path d="M422.2 482.3C424.2 478.1 423.0 475.6 428.1 469.7C433.2 463.7 434.3 466.1 437.4 464.4" fill="none" stroke="#2e1b10" stroke-width="1.1" stroke-linecap="round" stroke-linejoin="round"/>
<path d="M373.8 401.1C374.3 403.3 373.6 405.9 375.9 409.5C378.1 413.2 378.8 414.2 382.2 414.8C385.6 415.4 386.3 411.1 388.5 411.6C390.8 412.2 388.4 415.0 390.6 416.9C392.9 418.9 394.1 419.9 397.0 419.0C399.8 418.2 398.9 414.0 401.2 413.8C403.4 413.5 403.2 417.4 405.4 418.0C407.7 418.5 407.7 417.6 409.6 415.9C411.6 414.2 411.9 412.8 412.8 411.6" fill="none" stroke="#2e1b10" stroke-width="1.2" stroke-linecap="round" stroke-linejoin="round"/>
<path d="M388.5 411.6C388.2 408.8 387.8 406.0 387.5 403.2" fill="none" stroke="#2e1b10" stroke-width="1" stroke-linecap="round" stroke-linejoin="round"/>
<path d="M401.2 413.8C400.5 410.9 399.8 408.1 399.1 405.3" fill="none" stroke="#2e1b10" stroke-width="1" stroke-linecap="round" stroke-linejoin="round"/>
<path d="M468.0 398.0C471.3 397.5 471.3 396.2 478.0 396.5C484.7 396.8 483.3 397.2 488.0 399.0C492.7 400.8 490.7 401.0 492.0 402.0" fill="none" stroke="#2e1b10" stroke-width="0.9" stroke-linecap="round" stroke-linejoin="round"/>
<path d="M476.0 400.5C478.3 401.2 480.7 401.8 483.0 402.5" fill="none" stroke="#2e1b10" stroke-width="0.9" stroke-linecap="round" stroke-linejoin="round"/>
<path d="M150.0 552.0C160.0 547.3 164.1 545.8 180.0 538.0C195.9 530.2 181.9 534.3 197.8 528.5C213.7 522.7 206.0 524.7 227.6 520.6C249.2 516.5 244.5 518.3 262.6 516.3C280.7 514.3 269.5 515.1 282.0 514.5C294.5 513.9 280.7 513.3 300.0 514.5C319.3 515.7 320.0 515.2 340.0 518.0C360.0 520.8 340.7 517.7 360.0 523.0C379.3 528.3 378.0 527.3 398.0 534.0C418.0 540.7 401.0 529.3 420.0 543.0C439.0 556.7 431.7 554.7 455.0 575.0C478.3 595.3 464.0 588.3 490.0 604.0C516.0 619.7 508.0 615.2 533.0 622.0C558.0 628.8 543.3 628.2 565.0 624.5C586.7 620.8 578.3 620.5 598.0 611.0C617.7 601.5 608.3 607.7 624.0 596.0C639.7 584.3 638.0 582.7 645.0 576.0L652.0 582.0C644.0 590.0 645.3 592.3 628.0 606.0C610.7 619.7 620.7 612.7 600.0 623.0C579.3 633.3 590.3 630.3 566.0 637.0C541.7 643.7 554.7 642.3 527.0 643.0C499.3 643.7 511.0 645.3 483.0 639.0C455.0 632.7 470.7 636.7 443.0 624.0C415.3 611.3 431.0 611.7 400.0 601.0C369.0 590.3 383.3 597.3 350.0 592.0C316.7 586.7 334.7 586.7 300.0 585.0C265.3 583.3 274.3 583.3 246.0 587.0C217.7 590.7 233.7 589.7 215.0 596.0C196.3 602.3 211.7 598.0 190.0 606.0C168.3 614.0 163.3 615.3 150.0 620.0Z" fill="#fde2c2" stroke="#d4705c" stroke-width="0.9"/>
<path d="M189.5 540.7Q188.0 537.5 191.3 536.3L222.1 525.5Q225.4 524.3 225.8 527.8L232.1 581.5Q232.5 585.0 229.2 586.1L216.8 590.4Q213.5 591.5 212.0 588.3Z" fill="#d7d4c6" stroke="#8d8a7c" stroke-width="0.9"/>
<path d="M239.4 525.1Q239.0 521.6 242.5 521.1L275.9 516.3Q279.4 515.8 279.5 519.3L281.9 576.2Q282.0 579.7 278.5 580.0L250.0 582.0Q246.5 582.3 246.1 578.8Z" fill="#d7d4c6" stroke="#8d8a7c" stroke-width="0.9"/>
<path d="M296.6 522.5Q296.6 519.0 300.1 519.2L336.5 521.4Q340.0 521.6 339.8 525.1L336.2 580.1Q336.0 583.6 332.5 583.1L300.1 578.8Q296.6 578.3 296.6 574.8Z" fill="#d7d4c6" stroke="#8d8a7c" stroke-width="0.9"/>
<path d="M355.6 530.5Q356.0 527.0 359.4 528.0L393.4 537.8Q396.8 538.8 396.4 542.3L390.4 592.0Q390.0 595.5 386.6 594.8L352.7 588.3Q349.3 587.6 349.7 584.1Z" fill="#d7d4c6" stroke="#8d8a7c" stroke-width="0.9"/>
<path d="M410.1 544.5Q410.4 541.0 413.2 543.1L428.2 553.9Q431.0 556.0 433.3 558.6L450.3 577.4Q452.6 580.0 451.7 583.4L443.3 616.4Q442.4 619.8 439.3 618.2L408.4 602.9Q405.3 601.3 405.6 597.8Z" fill="#d7d4c6" stroke="#8d8a7c" stroke-width="0.9"/>
<path d="M454.2 585.9Q455.0 582.5 457.8 584.6L485.2 605.9Q488.0 608.0 487.2 611.4L482.1 631.6Q481.3 635.0 478.0 633.7L448.8 622.1Q445.5 620.8 446.3 617.4Z" fill="#d7d4c6" stroke="#8d8a7c" stroke-width="0.9"/>
<path d="M489.8 613.6Q490.7 610.2 494.0 611.5L528.6 624.7Q531.9 626.0 530.7 629.3L528.0 637.2Q526.8 640.5 523.3 640.1L487.5 636.4Q484.0 636.0 484.9 632.6Z" fill="#d7d4c6" stroke="#8d8a7c" stroke-width="0.9"/>
<path d="M533.4 630.3Q534.6 627.0 538.1 627.1L560.5 627.9Q564.0 628.0 564.5 630.7L564.7 631.3Q565.2 634.0 561.8 634.6L532.9 639.9Q529.5 640.5 530.7 637.2Z" fill="#d7d4c6" stroke="#8d8a7c" stroke-width="0.9"/>
<path d="M567.0 630.7Q566.7 628.0 569.9 626.7L594.5 616.6Q597.7 615.3 598.5 617.6L598.6 618.0Q599.4 620.3 596.2 621.7L570.5 632.6Q567.3 634.0 567.0 631.3Z" fill="#d7d4c6" stroke="#8d8a7c" stroke-width="0.9"/>
<path d="M600.2 616.9Q599.9 614.3 602.9 612.5L621.7 601.7Q624.7 599.9 625.5 601.5L625.6 601.8Q626.4 603.4 623.5 605.3L603.4 618.1Q600.5 620.0 600.2 617.4Z" fill="#d7d4c6" stroke="#8d8a7c" stroke-width="0.9"/>
<path d="M626.3 600.6Q625.5 599.0 628.0 596.5L642.5 581.8Q645.0 579.3 646.5 580.4L646.9 580.6Q648.4 581.7 645.9 584.2L629.7 600.1Q627.2 602.6 626.4 601.0Z" fill="#d7d4c6" stroke="#8d8a7c" stroke-width="0.9"/>
<path d="M260.5 594.8Q258.3 591.5 262.3 591.1L271.5 590.1Q275.5 589.7 276.4 593.6L279.9 610.1Q280.8 614.0 277.7 614.7L277.1 614.8Q274.0 615.5 271.8 612.2Z" fill="#d7d4c6" stroke="#8d8a7c" stroke-width="0.9"/>
<path d="M307.1 597.4Q305.0 594.0 309.0 594.0L317.6 594.0Q321.6 594.0 322.5 597.9L326.1 612.7Q327.0 616.6 324.5 618.4L324.1 618.7Q321.6 620.5 319.5 617.1Z" fill="#d7d4c6" stroke="#8d8a7c" stroke-width="0.9"/>
<path d="M352.6 607.7Q350.0 604.7 353.9 604.1L362.6 602.6Q366.5 602.0 368.2 605.6L376.6 623.4Q378.3 627.0 375.9 628.8L375.4 629.2Q373.0 631.0 370.4 628.0Z" fill="#d7d4c6" stroke="#8d8a7c" stroke-width="0.9"/>
<path d="M407.0 618.1C409.3 612.2 411.5 614.4 420.5 619.8C429.5 625.2 425.5 630.7 440.8 638.4C456.1 646.1 458.1 644.9 477.9 648.5C497.7 652.1 493.9 652.4 515.0 651.9C536.1 651.4 555.4 644.6 557.2 646.8C559.0 649.0 542.0 657.2 521.8 660.3C501.6 663.4 498.4 658.1 481.3 658.6C464.2 659.1 469.3 663.3 457.6 662.0C445.9 660.7 449.6 659.0 437.4 653.6C425.2 648.2 420.1 651.3 412.0 641.8C403.9 632.3 404.7 624.0 407.0 618.1Z" fill="#d7d4c6" stroke="#8d8a7c" stroke-width="0.9"/>
<path d="M656.7 460.9C659.9 463.3 663.8 464.6 668.5 469.3C673.2 474.0 674.1 475.7 677.0 481.0C679.9 486.3 679.4 486.2 681.0 492.0C682.6 497.8 684.0 498.3 684.0 506.0C684.0 513.7 683.1 517.1 681.0 525.0C678.9 532.9 677.6 531.6 675.0 540.0C672.4 548.4 672.3 553.3 669.7 561.0C667.1 568.7 668.4 569.7 664.0 573.0C659.6 576.3 656.4 575.2 651.0 575.0C645.6 574.8 644.3 576.0 641.0 572.0C637.7 568.0 637.7 566.6 637.0 558.0C636.3 549.4 637.1 544.3 638.0 535.0C638.9 525.7 637.0 522.4 641.0 518.0C645.0 513.6 647.8 516.9 655.0 516.0C662.2 515.1 668.0 515.6 672.0 514.0C676.0 512.4 676.0 510.6 672.0 509.0C668.0 507.4 662.5 509.8 655.0 507.0C647.5 504.2 646.3 498.6 640.0 497.0C633.7 495.4 633.1 496.5 628.0 500.0C622.9 503.5 622.7 505.5 618.0 512.0C613.3 518.5 609.2 530.1 608.0 528.0C606.8 525.9 609.7 512.0 612.8 503.0C615.9 494.0 617.4 495.1 621.3 489.6C625.2 484.1 625.0 484.2 629.7 479.5C634.4 474.8 635.6 474.0 641.5 469.3C647.4 464.6 651.5 461.2 655.0 459.2C658.5 457.2 653.6 458.5 656.7 460.9Z" fill="#fde3c6"/>
<path d="M462.7 567.5C464.7 564.6 470.6 565.5 481.3 568.5C491.9 571.6 488.0 576.7 498.1 577.6C508.3 578.5 507.9 573.0 515.0 571.6C522.2 570.2 517.9 570.6 522.0 573.0C526.1 575.4 521.5 578.1 528.5 579.7C535.5 581.3 536.3 577.1 545.4 578.3C554.5 579.5 550.4 585.6 558.9 583.7C567.4 581.8 564.3 579.8 573.8 572.0C583.3 564.2 581.5 567.5 590.6 557.6C599.7 547.7 597.0 549.6 604.1 539.0C611.2 528.4 608.7 531.3 614.3 522.2C619.9 513.1 617.7 514.5 622.7 508.7C627.7 502.9 626.0 505.1 631.1 502.8C636.2 500.5 634.5 500.0 639.6 501.0C644.7 502.0 641.4 503.4 648.0 506.2C654.6 509.0 652.5 509.4 661.5 510.4C670.5 511.4 673.0 508.6 678.0 509.5C683.0 510.4 683.0 512.0 678.0 513.5C673.0 515.0 670.5 515.1 661.5 514.6C652.5 514.1 654.6 512.2 648.0 512.0C641.4 511.8 643.4 510.7 639.6 513.8C635.8 516.9 637.2 514.6 635.4 522.2C633.6 529.8 634.5 528.9 633.7 539.0C632.9 549.1 634.6 545.4 632.8 556.0C631.0 566.6 632.8 564.9 627.8 574.5C622.8 584.1 623.1 581.4 616.0 588.0C608.9 594.6 610.1 593.5 604.1 596.5C598.1 599.5 602.5 596.5 596.0 597.9C589.6 599.3 590.6 597.0 582.5 601.3C574.4 605.5 576.3 610.9 569.0 612.1C561.7 613.3 564.3 605.3 558.2 605.3C552.2 605.3 556.7 611.1 548.8 612.1C540.9 613.1 540.0 611.9 531.9 608.7C523.8 605.5 528.9 604.5 521.8 601.3C514.7 598.0 516.4 601.7 508.3 597.9C500.2 594.0 504.9 594.3 494.8 588.4C484.6 582.6 484.1 584.6 474.5 578.3C464.9 572.0 460.7 570.4 462.7 567.5Z" fill="#efaa98" stroke="#d27a66" stroke-width="0.9"/>
<path d="M527.6 588.7C527.0 591.3 527.6 590.3 525.3 592.2C523.1 594.1 524.2 593.5 520.9 594.3C517.5 595.1 519.0 595.1 515.2 594.6C511.3 594.2 512.9 594.6 509.4 593.1C505.9 591.5 507.1 592.4 504.6 590.0C502.1 587.6 502.8 588.7 501.8 585.9C500.8 583.2 500.9 584.3 501.6 581.7C502.2 579.1 501.6 580.1 503.9 578.2C506.1 576.3 505.0 576.9 508.3 576.1C511.7 575.3 510.2 575.3 514.0 575.8C517.9 576.2 516.3 575.8 519.8 577.3C523.3 578.9 522.1 578.0 524.6 580.4C527.1 582.8 526.4 581.7 527.4 584.5C528.4 587.2 528.3 586.1 527.6 588.7Z" fill="#f5c3b9" stroke="#d27a66" stroke-width="0.8"/>
<path d="M551.8 592.3C552.4 595.9 552.5 594.4 551.2 597.9C549.8 601.5 550.8 600.1 547.7 602.9C544.7 605.8 546.2 604.9 542.0 606.4C537.8 608.0 539.7 607.6 535.2 607.6C530.8 607.6 532.5 607.9 528.7 606.3C524.8 604.7 526.2 605.6 523.7 602.8C521.2 599.9 521.9 601.3 521.2 597.7C520.6 594.1 520.5 595.6 521.8 592.1C523.2 588.5 522.2 589.9 525.3 587.1C528.3 584.2 526.8 585.1 531.0 583.6C535.2 582.0 533.3 582.4 537.8 582.4C542.2 582.4 540.5 582.1 544.3 583.7C548.2 585.3 546.8 584.4 549.3 587.2C551.8 590.1 551.1 588.7 551.8 592.3Z" fill="#f5c3b9" stroke="#d27a66" stroke-width="0.8"/>
<path d="M584.5 592.5C584.5 596.4 584.8 594.8 583.3 598.4C581.7 601.9 582.6 600.6 579.8 603.1C577.0 605.5 578.3 604.8 574.8 605.7C571.3 606.5 572.7 606.5 569.2 605.7C565.7 604.8 567.0 605.5 564.2 603.1C561.4 600.6 562.3 601.9 560.7 598.4C559.2 594.8 559.5 596.4 559.5 592.5C559.5 588.6 559.2 590.2 560.7 586.6C562.3 583.1 561.4 584.4 564.2 581.9C567.0 579.5 565.7 580.2 569.2 579.3C572.7 578.5 571.3 578.5 574.8 579.3C578.3 580.2 577.0 579.5 579.8 581.9C582.6 584.4 581.7 583.1 583.3 586.6C584.8 590.2 584.5 588.6 584.5 592.5Z" fill="#f5c3b9" stroke="#d27a66" stroke-width="0.8"/>
<path d="M629.5 508.7C632.3 509.3 634.0 506.5 634.5 513.8C635.0 521.1 633.3 518.2 631.1 530.6C628.9 543.0 630.6 537.9 627.8 550.9C625.0 563.9 628.3 558.8 622.7 569.5C617.1 580.2 618.8 576.3 610.9 583.0C603.0 589.7 606.3 589.2 599.0 589.7C591.7 590.2 593.5 589.7 589.0 584.6C584.5 579.5 583.4 582.9 585.6 574.5C587.8 566.1 587.8 569.5 595.7 559.3C603.6 549.1 601.3 555.2 609.2 544.0C617.1 532.8 613.7 536.3 619.3 525.6C624.9 514.9 622.6 517.6 626.0 512.0C629.4 506.4 626.7 508.1 629.5 508.7Z" fill="#f5c3b9" stroke="#d27a66" stroke-width="0.8"/>
<path d="M520.7 585.1C520.4 586.3 520.7 585.9 519.5 586.8C518.2 587.6 518.9 587.4 516.9 587.7C514.9 588.0 515.8 588.0 513.6 587.7C511.3 587.4 512.2 587.6 510.1 586.8C508.0 585.9 508.8 586.4 507.3 585.1C505.7 583.9 506.2 584.4 505.5 583.0C504.9 581.6 504.9 582.2 505.3 580.9C505.6 579.7 505.3 580.1 506.5 579.2C507.8 578.4 507.1 578.6 509.1 578.3C511.1 578.0 510.2 578.0 512.4 578.3C514.7 578.6 513.8 578.4 515.9 579.2C518.0 580.1 517.2 579.6 518.7 580.9C520.3 582.1 519.8 581.6 520.5 583.0C521.1 584.4 521.1 583.8 520.7 585.1Z" fill="#f9d3cc" opacity="0.8"/>
<path d="M543.9 590.4C544.2 592.3 544.3 591.5 543.5 593.4C542.7 595.2 543.2 594.5 541.4 596.0C539.6 597.5 540.5 597.0 538.1 597.9C535.6 598.7 536.7 598.6 534.1 598.6C531.6 598.6 532.6 598.8 530.4 598.0C528.1 597.2 528.9 597.7 527.5 596.2C526.1 594.7 526.5 595.4 526.1 593.6C525.8 591.7 525.7 592.5 526.5 590.6C527.3 588.8 526.8 589.5 528.6 588.0C530.4 586.5 529.5 587.0 531.9 586.1C534.4 585.3 533.3 585.4 535.9 585.4C538.4 585.4 537.4 585.2 539.6 586.0C541.9 586.8 541.1 586.3 542.5 587.8C543.9 589.3 543.5 588.6 543.9 590.4Z" fill="#f9d3cc" opacity="0.8"/>
<path d="M578.0 589.0C578.0 591.0 578.2 590.2 577.3 592.0C576.4 593.9 576.9 593.2 575.4 594.5C573.8 595.7 574.5 595.4 572.6 595.8C570.6 596.3 571.4 596.3 569.4 595.8C567.5 595.4 568.2 595.7 566.6 594.5C565.1 593.2 565.6 593.9 564.7 592.0C563.8 590.2 564.0 591.0 564.0 589.0C564.0 587.0 563.8 587.8 564.7 586.0C565.6 584.1 565.1 584.8 566.6 583.5C568.2 582.3 567.5 582.6 569.4 582.2C571.4 581.7 570.6 581.7 572.6 582.2C574.5 582.6 573.8 582.3 575.4 583.5C576.9 584.8 576.4 584.1 577.3 586.0C578.2 587.8 578.0 587.0 578.0 589.0Z" fill="#f9d3cc" opacity="0.8"/>
<path d="M622.0 560.0C620.0 564.7 621.3 566.3 616.0 574.0C610.7 581.7 609.3 580.0 606.0 583.0" fill="none" stroke="#fbd9d2" stroke-width="2.2" stroke-linecap="round" opacity="0.8"/>
<path d="M640.0 504.0C645.0 505.7 642.3 506.5 655.0 509.0C667.7 511.5 670.3 510.7 678.0 511.5" fill="none" stroke="#d27a66" stroke-width="0.8"/>
<path d="M545.3 401.8C548.0 397.5 550.4 395.9 557.1 395.9C563.9 395.9 562.5 397.5 570.6 401.8C578.7 406.1 578.5 406.3 587.5 411.9C596.5 417.6 597.2 419.1 604.4 422.9C611.6 426.7 609.1 427.0 614.5 426.3C619.9 425.6 618.3 424.7 624.6 420.4C630.9 416.1 633.0 413.2 638.1 410.3C643.3 407.3 641.4 406.3 644.1 409.4C646.8 412.6 649.6 416.0 648.3 422.1C646.9 428.1 644.4 427.0 639.0 432.2C633.6 437.4 632.7 436.5 628.0 441.5C623.3 446.4 624.4 444.7 621.3 450.8C618.1 456.8 618.9 457.1 616.2 464.3C613.5 471.5 614.5 471.0 611.1 477.8C607.8 484.5 608.0 485.4 603.5 489.6C599.0 493.7 598.8 493.5 594.3 493.3C589.8 493.1 590.5 493.8 586.7 488.7C582.8 483.7 583.5 482.9 579.9 474.4C576.3 465.8 577.2 465.9 573.2 456.7C569.1 447.4 569.7 448.3 564.7 439.8C559.8 431.2 559.3 432.0 554.6 424.6C549.9 417.2 549.5 418.0 547.0 411.9C544.5 405.9 542.6 406.1 545.3 401.8Z" fill="#fde3c6"/>
<path d="M548.7 402.7C550.5 399.7 551.3 398.6 557.1 399.3C563.0 400.0 562.5 400.9 570.6 405.2C578.7 409.5 578.5 409.7 587.5 415.3C596.5 420.9 597.2 422.5 604.4 426.3C611.6 430.1 609.1 430.3 614.5 429.7C619.9 429.0 618.3 428.0 624.6 423.8C630.9 419.5 633.4 416.6 638.1 413.6C642.9 410.7 640.3 410.5 642.4 412.8C644.4 415.0 646.9 417.6 645.7 422.1C644.6 426.6 643.8 424.7 638.1 429.7C632.5 434.6 630.0 435.5 624.6 440.6C619.2 445.8 621.0 443.2 617.9 449.1C614.7 454.9 615.5 455.4 612.8 462.6C610.1 469.8 610.9 469.8 607.8 476.1C604.6 482.4 604.6 482.6 601.0 486.2C597.4 489.8 597.9 490.0 594.3 489.6C590.7 489.1 590.7 489.5 587.5 484.5C584.4 479.6 585.6 479.6 582.4 471.0C579.3 462.5 579.7 461.9 575.7 452.4C571.6 443.0 572.2 444.1 567.3 435.6C562.3 427.0 561.6 427.1 557.1 420.4C552.6 413.6 552.6 415.0 550.4 410.3C548.1 405.5 546.9 405.6 548.7 402.7Z" fill="#f0b8a4" stroke="#d99883" stroke-width="0.8"/>
<path d="M562.2 415.3C565.0 414.3 571.2 416.0 579.1 419.5C586.9 423.1 588.9 426.0 595.9 430.5C603.0 435.0 603.5 437.2 609.5 438.9C615.4 440.7 614.6 442.0 621.3 438.1C628.0 434.2 632.6 427.0 638.1 422.1C643.7 417.1 643.2 417.6 644.9 417.0C646.5 416.4 649.2 415.0 645.2 419.5C641.3 424.1 635.2 430.5 628.0 436.4C620.8 442.3 618.5 440.7 614.5 444.9C610.6 449.0 613.1 448.8 611.1 454.1C609.2 459.5 608.8 462.5 606.1 467.6C603.3 472.8 602.1 474.5 599.3 476.1C596.6 477.7 597.0 478.7 594.3 474.4C591.5 470.1 591.4 466.2 587.5 457.5C583.6 448.8 582.1 445.1 577.4 437.3C572.7 429.4 570.8 428.9 567.3 423.8C563.7 418.6 559.4 416.3 562.2 415.3Z" fill="#e3a092"/>
<path d="M578.2 426.3C580.3 423.8 583.9 426.5 590.9 429.7C597.9 432.8 599.2 434.3 604.4 438.1C609.6 441.9 609.4 439.7 610.3 444.0C611.2 448.3 609.8 448.3 607.8 454.1C605.7 460.0 605.4 460.8 602.7 465.9C600.0 471.1 600.1 472.6 597.6 473.5C595.2 474.4 595.7 474.5 593.4 469.3C591.2 464.1 591.9 462.2 589.2 454.1C586.5 446.0 586.2 446.4 583.3 438.9C580.4 431.5 576.2 428.8 578.2 426.3Z" fill="#f0c4c2"/>
<path d="M594.3 457.5C594.9 460.3 595.0 461.6 596.3 465.9C597.5 470.3 597.4 469.1 598.0 470.7" fill="none" stroke="#fff" stroke-opacity="0.35" stroke-width="2" stroke-linecap="round"/>
<path d="M650.0 443.2C648.6 443.4 648.0 442.7 644.9 444.0C641.7 445.4 641.7 444.9 638.1 448.2C634.5 451.6 635.9 451.9 631.4 456.7C626.9 461.4 625.8 460.8 621.3 465.9C616.8 471.1 618.1 470.2 614.5 476.1C610.9 481.9 611.4 482.0 607.8 487.9C604.2 493.7 604.6 493.1 601.0 498.0C597.4 503.0 597.2 502.7 594.3 506.5C591.3 510.2 591.1 510.5 590.0 512.0L592.0 517.0C592.5 516.2 593.9 513.5 595.0 512.0C596.1 510.5 597.6 509.6 598.5 508.1C599.3 506.7 599.2 504.3 600.2 503.1C601.2 501.8 603.4 502.0 604.4 500.5C605.4 499.1 605.2 496.0 606.1 494.6C606.9 493.2 608.6 493.5 609.5 492.1C610.3 490.7 610.3 487.6 611.1 486.2C612.0 484.8 613.7 485.1 614.5 483.7C615.4 482.3 615.4 479.2 616.2 477.8C617.0 476.4 618.7 476.6 619.6 475.2C620.4 473.8 620.4 470.5 621.3 469.3C622.1 468.2 623.5 469.7 624.6 468.5C625.8 467.2 626.6 462.9 628.0 461.7C629.4 460.6 631.7 462.4 633.1 461.7C634.5 461.0 635.0 458.1 636.5 457.5C637.9 456.9 640.1 458.9 641.5 458.4C642.9 457.8 643.2 454.7 644.9 454.1C646.6 453.6 650.5 454.8 651.6 455.0Z" fill="#dd6f5c" stroke="#ab3a28" stroke-width="1.3" stroke-linejoin="round"/>
<path d="M649.1 444.9L650.3 453.8L645.2 452.8L641.5 456.8L636.8 456.2L633.4 460.0L629.7 459.5L636.5 451.6L644.1 445.7Z" fill="#f29584"/>
<path d="M574.3 521.3C575.7 519.7 578.6 523.0 582.8 522.0C587.1 521.0 591.4 516.2 592.5 517.1C593.6 518.1 590.9 521.2 587.7 526.1C584.4 531.0 581.2 537.7 578.7 538.3C576.1 538.8 577.8 532.5 576.7 528.5C575.7 524.6 572.9 522.8 574.3 521.3Z" fill="#cf7765" stroke="#ab3a28" stroke-width="2.2" stroke-linejoin="round"/>
<path d="M554.9 510.4C558.1 512.4 558.1 512.8 564.6 516.4C571.1 520.1 571.1 519.7 574.3 521.3" fill="none" stroke="#ab3a28" stroke-width="2.3" stroke-linecap="round"/>
<path d="M578.7 538.3C578.0 539.9 579.4 540.4 576.7 543.1C574.1 545.8 575.1 545.2 570.7 546.3C566.2 547.3 565.8 546.3 563.4 546.3" fill="none" stroke="#ab3a28" stroke-width="2.4" stroke-linecap="round"/>
<path d="M619.0 372.4C625.0 374.3 634.7 379.6 646.6 388.0C658.5 396.4 657.0 396.8 663.5 404.0C670.0 411.2 668.1 408.6 671.0 415.0C673.9 421.4 673.3 421.1 674.5 428.0C675.7 434.9 676.2 433.8 675.5 441.0C674.8 448.2 675.9 449.4 672.0 455.0C668.1 460.6 665.5 461.3 661.0 462.0C656.5 462.7 657.1 461.8 655.0 457.5C652.9 453.2 654.6 452.0 653.3 445.7C652.0 439.4 651.8 439.7 650.0 433.9C648.2 428.1 648.4 429.2 646.6 423.8C644.8 418.4 645.5 418.1 643.2 413.6C640.9 409.1 641.1 411.0 638.0 406.9C634.9 402.8 634.1 402.9 631.4 398.4C628.7 393.9 630.0 394.6 628.0 390.0C626.0 385.4 626.4 385.7 624.0 381.0C621.6 376.3 613.0 370.5 619.0 372.4Z" fill="#fbd9c3"/>
<path d="M619.0 372.4C620.7 375.3 621.0 375.1 624.0 381.0C627.0 386.9 625.5 384.2 628.0 390.0C630.5 395.8 628.1 392.8 631.4 398.4C634.7 404.0 634.1 401.8 638.0 406.9C641.9 412.0 640.3 408.0 643.2 413.6C646.1 419.2 644.3 417.0 646.6 423.8C648.9 430.6 647.8 426.6 650.0 433.9C652.2 441.2 651.6 437.8 653.3 445.7C655.0 453.6 654.4 453.6 655.0 457.5" fill="none" stroke="#d4705c" stroke-width="0.8"/>
<path d="M202.8 350.0C203.7 343.3 200.9 343.2 205.5 330.0C210.1 316.8 206.3 323.3 216.5 310.5C226.7 297.7 221.8 302.7 236.0 291.5C250.2 280.3 241.5 285.3 259.0 277.0C276.5 268.7 268.9 271.3 288.6 266.6C308.3 261.9 298.3 263.0 318.0 263.0C337.7 263.0 328.0 262.3 347.7 266.5C367.4 270.7 359.8 268.5 377.2 275.5C394.6 282.5 385.7 278.1 400.0 287.5C414.3 296.9 407.7 294.0 420.0 303.6C432.3 313.2 425.6 307.3 436.9 316.3C448.2 325.3 442.6 320.2 453.8 330.6C465.0 341.0 459.4 336.2 470.6 347.5C481.8 358.8 476.2 353.7 487.5 364.4C498.8 375.1 493.1 369.5 504.4 379.6C515.7 389.7 510.5 385.7 521.3 394.8C532.1 403.9 526.1 397.2 536.9 406.9C547.7 416.6 544.2 412.6 553.8 423.8C563.4 435.0 558.9 429.4 565.6 440.6C572.3 451.8 568.9 446.2 574.0 457.5C579.1 468.8 576.9 464.8 580.8 474.4C584.7 484.0 581.9 480.0 585.8 486.2C589.7 492.4 588.1 491.3 592.6 493.0C597.1 494.7 594.2 495.3 599.3 491.3C604.4 487.3 600.5 490.6 607.8 481.0C615.1 471.4 612.3 473.8 621.3 462.6C630.3 451.4 626.9 456.4 634.8 447.4C642.7 438.4 640.3 440.9 645.0 435.6C649.7 430.3 647.7 432.9 649.0 431.5L655 459.2C650.5 462.6 649.9 462.5 641.5 469.3C633.1 476.1 636.4 472.7 629.7 479.5C623.0 486.3 626.9 481.8 621.3 489.6C615.7 497.4 618.1 494.2 612.8 503.0C607.5 511.8 611.1 506.3 605.5 516.0C599.9 525.7 602.5 523.3 596.0 532.0C589.5 540.7 594.1 536.4 586.0 542.0C577.9 547.6 587.0 544.9 571.7 548.7C556.4 552.5 563.9 550.8 540.0 553.5C516.1 556.2 520.0 556.1 500.0 556.8C480.0 557.5 502.7 559.9 480.0 555.5C457.3 551.1 465.3 553.5 432.0 543.5C398.7 533.5 414.8 538.5 380.0 525.5C345.2 512.5 359.2 518.5 327.7 504.5C296.2 490.5 310.1 498.2 285.5 483.4C260.9 468.6 272.5 476.2 253.8 460.2C235.1 444.2 242.9 452.6 229.5 435.5C216.1 418.4 221.6 427.2 213.5 409.0C205.4 390.8 208.8 400.7 205.2 381.0C201.6 361.3 203.6 360.3 202.8 350.0Z" fill="none" stroke="#a53b28" stroke-width="1.9" stroke-linejoin="round"/></g>
<path d="M140.0 345.0C153.3 331.0 158.3 323.7 180.0 303.0C201.7 282.3 188.5 294.7 205.0 283.0C221.5 271.3 211.5 276.2 229.5 268.0C247.5 259.8 239.3 263.2 259.0 258.3C278.7 253.4 268.9 255.3 288.6 253.3C308.3 251.3 298.3 251.9 318.0 252.4C337.7 252.9 328.0 251.6 347.7 254.8C367.4 258.0 357.5 254.9 377.2 262.0C396.9 269.1 392.4 268.0 406.7 276.0C421.0 284.0 409.9 277.9 420.0 286.0C430.1 294.1 425.6 291.0 436.9 300.3C448.2 309.6 442.6 305.4 453.8 313.8C465.0 322.2 459.4 318.9 470.6 325.6C481.8 332.3 476.2 328.9 487.5 334.0C498.8 339.1 493.1 337.1 504.4 340.8C515.7 344.5 510.1 342.5 521.3 345.0C532.5 347.5 528.0 346.8 538.1 348.4C548.2 350.0 547.1 349.3 551.6 349.7" fill="none" stroke="#2b1a10" stroke-width="2.9" stroke-linecap="round"/>
<path d="M551.6 349.7C555.6 348.7 554.0 350.5 563.5 346.7C573.0 342.9 566.4 344.8 580.0 338.2C593.6 331.6 582.2 337.4 604.4 327.0C626.6 316.6 618.5 319.3 646.6 307.0C674.7 294.7 661.0 301.0 688.8 290.0C716.6 279.0 696.3 286.7 730.0 274.0C763.7 261.3 770.0 259.3 790.0 252.0" fill="none" stroke="#2b1a10" stroke-width="2.1" stroke-linecap="round"/>
<path d="M790.0 560.0C773.8 562.5 761.8 563.9 741.4 567.4C721.0 570.9 738.6 567.8 728.8 570.6C719.0 573.4 721.8 571.3 711.9 575.9C702.0 580.5 706.2 577.3 699.2 584.3C692.2 591.3 697.1 587.2 690.8 597.0C684.5 606.8 688.7 601.1 680.3 613.8C671.9 626.5 677.5 620.9 665.5 635.0C653.5 649.1 658.5 644.1 644.4 656.0C630.3 667.9 640.9 661.6 623.3 670.8C605.7 680.0 612.3 677.3 591.6 683.5C570.9 689.7 582.7 687.3 561.3 689.5C539.9 691.7 550.0 690.9 527.5 690.0C505.0 689.1 509.6 688.6 493.8 686.7C478.0 684.8 499.2 688.5 480.0 684.2C460.8 679.9 465.6 681.7 436.3 673.8C407.0 665.9 421.5 670.3 392.0 660.5C362.5 650.7 377.2 653.6 347.7 644.3C318.2 635.0 333.0 637.4 303.4 632.5C273.8 627.6 288.5 630.0 259.0 629.5C229.5 629.0 251.1 627.5 214.8 631.0C178.5 634.5 171.6 637.0 150.0 640.0" fill="none" stroke="#2b1a10" stroke-width="2.6"/>
</g>
<g fill="#000"><path d="M331.1 105.6 A375.5 375.5 0 0 1 541.8 93.0 L537.1 113.4 A354.5 354.5 0 0 0 338.2 125.4 Z M543.8 84.2 L609.6 121.0 L535.1 122.2 Z"/><path d="M759.5 235.2 A375.5 375.5 0 0 1 832.8 436.1 L811.8 437.4 A354.5 354.5 0 0 0 742.6 247.7 Z M841.8 435.6 L823.4 508.8 L802.9 437.9 Z"/><path d="M787.8 638.6 A375.5 375.5 0 0 1 657.5 777.1 L646.3 759.3 A354.5 354.5 0 0 0 769.3 628.5 Z M662.3 784.8 L589.4 803.4 L641.5 751.7 Z"/><path d="M316.1 806.7 A375.5 375.5 0 0 1 148.0 670.9 L165.3 659.0 A354.5 354.5 0 0 0 324.1 787.2 Z M140.5 675.9 L117.7 604.4 L172.7 653.9 Z"/><path d="M85.0 502.2 A375.5 375.5 0 0 1 121.9 291.5 L140.7 300.9 A354.5 354.5 0 0 0 105.9 499.8 Z M113.9 287.5 L164.8 232.7 L148.8 304.9 Z"/></g>
<g font-family="'Liberation Sans', sans-serif" font-size="27.7" fill="#000" stroke="#fff" stroke-width="0.3" paint-order="fill stroke"><text x="100.8" y="152.8">Nerve impulses from</text><text x="100.8" y="185.8">cervix transmitted</text><text x="100.8" y="218.8">to brain</text><text x="610.5" y="153">Brain stimulates</text><text x="610.5" y="186">pituitary gland to</text><text x="610.5" y="219">secrete oxytocin</text><text x="747.3" y="540">Oxytocin carried</text><text x="747.3" y="573.3">in bloodstream</text><text x="747.3" y="606.5">to uterus</text><text x="4.3" y="540">Head of baby</text><text x="4.3" y="573.3">pushes against</text><text x="4.3" y="606.5">cervix</text><text x="338.3" y="750">Oxytocin stimulates</text><text x="338.3" y="783.3">uterine contractions</text><text x="338.3" y="816.6">and pushes baby</text><text x="338.3" y="850">towards cervix</text></g>
</svg>
</body></html>
